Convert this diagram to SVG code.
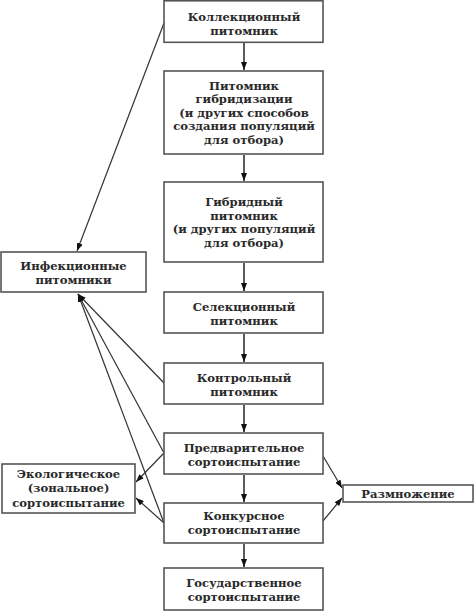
<svg xmlns="http://www.w3.org/2000/svg" width="474" height="612" viewBox="0 0 474 612">
<style>
rect{fill:#fff;stroke:#555;stroke-width:1.6}
text{font-family:"DejaVu Serif","Liberation Serif",serif;font-weight:bold;font-size:11.6px;fill:#2a2a2a;text-anchor:middle}
#connectors line{stroke:#333;stroke-width:1.2;fill:none}
#connectors line.v{stroke-width:1.6}
</style>
<defs>
<marker id="ah" markerUnits="userSpaceOnUse" markerWidth="8" markerHeight="6" viewBox="0 0 8 6" refX="8" refY="3" orient="auto">
<path d="M0,0 L8,3 L0,6 Z" fill="#111"/>
</marker>
</defs>
<g id="connectors">
<line class="v" x1="244" y1="43" x2="244" y2="70" marker-end="url(#ah)"/>
<line class="v" x1="244" y1="155" x2="244" y2="181" marker-end="url(#ah)"/>
<line class="v" x1="244" y1="263" x2="244" y2="291" marker-end="url(#ah)"/>
<line class="v" x1="244" y1="334" x2="244" y2="362" marker-end="url(#ah)"/>
<line class="v" x1="244" y1="405" x2="244" y2="432" marker-end="url(#ah)"/>
<line class="v" x1="244" y1="475" x2="244" y2="502" marker-end="url(#ah)"/>
<line class="v" x1="244" y1="544" x2="244" y2="567" marker-end="url(#ah)"/>
<line x1="164" y1="23" x2="77" y2="251" marker-end="url(#ah)"/>
<line x1="164" y1="383" x2="78" y2="294" marker-end="url(#ah)"/>
<line x1="164" y1="453" x2="78" y2="294" marker-end="url(#ah)"/>
<line x1="164" y1="523" x2="78" y2="294" marker-end="url(#ah)"/>
<line x1="164" y1="453" x2="136" y2="482" marker-end="url(#ah)"/>
<line x1="164" y1="523" x2="136" y2="498" marker-end="url(#ah)"/>
<line x1="323" y1="456" x2="342" y2="488" marker-end="url(#ah)"/>
<line x1="323" y1="521" x2="342" y2="498" marker-end="url(#ah)"/>
</g>
<g id="n1"><rect x="164" y="0.8" width="159" height="41.5"/><text x="244" y="20.5">Коллекционный</text><text x="244" y="34.5">питомник</text></g>
<g id="n2"><rect x="164" y="71" width="159" height="83"/><text x="244" y="89.5">Питомник</text><text x="244" y="103">гибридизации</text><text x="244" y="116.5">(и других способов</text><text x="244" y="130">создания популяций</text><text x="244" y="143.5">для отбора)</text></g>
<g id="n3"><rect x="164" y="182" width="159" height="80"/><text x="244" y="206">Гибридный</text><text x="244" y="219.5">питомник</text><text x="244" y="233">(и других популяций</text><text x="244" y="246.5">для отбора)</text></g>
<g id="n4"><rect x="164" y="292" width="159" height="41"/><text x="244" y="311">Селекционный</text><text x="244" y="324.5">питомник</text></g>
<g id="n5"><rect x="164" y="363" width="159" height="41"/><text x="244" y="382">Контрольный</text><text x="244" y="395.5">питомник</text></g>
<g id="n6"><rect x="164" y="433" width="159" height="41"/><text x="244" y="452">Предварительное</text><text x="244" y="465.5">сортоиспытание</text></g>
<g id="n7"><rect x="164" y="503" width="159" height="40"/><text x="244" y="520">Конкурсное</text><text x="244" y="534">сортоиспытание</text></g>
<g id="n8"><rect x="164" y="568" width="159" height="42"/><text x="244" y="587">Государственное</text><text x="244" y="601">сортоиспытание</text></g>
<g id="n9"><rect x="1" y="252" width="145" height="40"/><text x="73.5" y="269.5">Инфекционные</text><text x="73.5" y="284">питомники</text></g>
<g id="n10"><rect x="2" y="464" width="133" height="49"/><text x="68.5" y="477.5">Экологическое</text><text x="68.5" y="492">(зональное)</text><text x="68.5" y="506.5">сортоиспытание</text></g>
<g id="n11"><rect x="343" y="485" width="130" height="17"/><text x="408" y="498">Размножение</text></g>
</svg>
